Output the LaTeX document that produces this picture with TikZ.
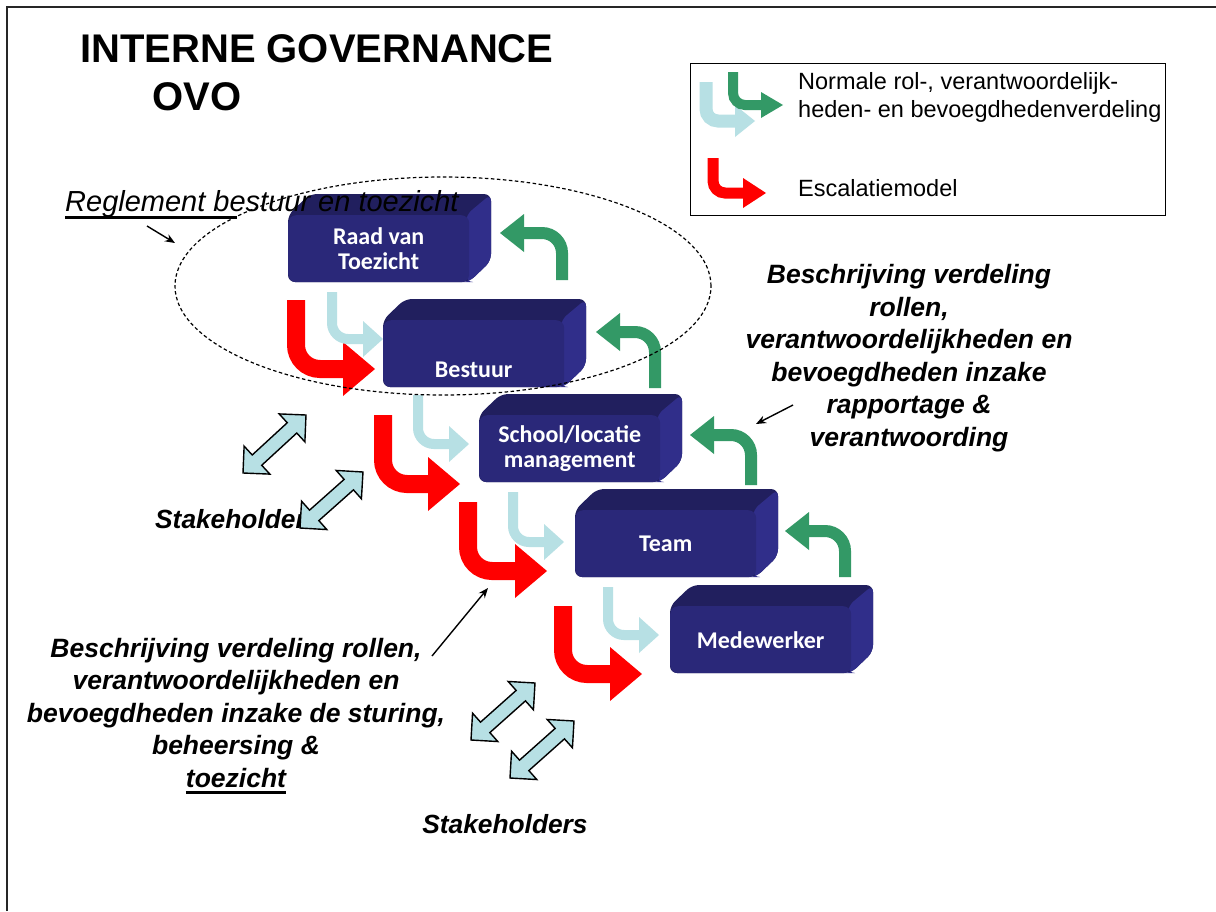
\documentclass[tikz,border=0pt]{standalone}
\usepackage{fontspec}
\setmainfont{Liberation Sans}
\newfontfamily\calfont{Carlito}
\usetikzlibrary{calc,arrows.meta,shapes.geometric}
\definecolor{ovofront}{HTML}{2A2879}
\definecolor{ovotop}{HTML}{211F5E}
\definecolor{ovoside}{HTML}{302E8A}
\definecolor{lblue}{HTML}{B7E0E4}
\definecolor{ggreen}{HTML}{339966}
\definecolor{rred}{HTML}{FF0000}

\newcommand\ovobox[4]{%
  \coordinate (#1-o) at (#2,#3);
  \fill[ovotop, rounded corners=7] (#1-o) -- ($(#1-o)+(22,-21)$) -- ($(#1-o)+(203,-21)$) -- ($(#1-o)+(203,46)$) -- ($(#1-o)+(181,67)$) -- ($(#1-o)+(0,67)$) -- cycle;
  \fill[ovoside, rounded corners=7] ($(#1-o)+(178,0)$) -- ($(#1-o)+(203,-21)$) -- ($(#1-o)+(203,46)$) -- ($(#1-o)+(181,67)$) -- ($(#1-o)+(178,67)$) -- cycle;
  \node[ovofrontbox] (#1) at (#1-o) {#4};
}
% #1 style, #2 start, #3 tip, #4 signed offset tip->head base, #5 half head
\newcommand\bentarr[5]{%
  \draw[#1] (#2) |- ($(#3)+(#4,0)$);
  \fill[#1, sharp corners] ($(#3)+(#4,#5)$) -- (#3) -- ($(#3)+(#4,-#5)$) -- cycle;
}
\newcommand\dblarr[2]{%
  \draw[stake] let \p1=(#1), \p2=(#2), \n1={atan2(\y2-\y1,\x2-\x1)}, \n2={veclen(\x2-\x1,\y2-\y1)} in
  (\p1) -- ++(\n1+45:26.87pt) -- ++(\n1-90:12pt) -- ++(\n1:{(\n2-38)*1pt}) -- ++(\n1+90:12pt)
  -- (\p2) -- ++(\n1-135:26.87pt) -- ++(\n1+90:12pt) -- ++(\n1+180:{(\n2-38)*1pt}) -- ++(\n1-90:12pt) -- cycle;
}
\newcommand\ulbar[1]{\setbox0\hbox{#1}\rlap{\raisebox{-7pt}{\rule{\wd0}{2.8pt}}}\box0}

\begin{document}
\begin{tikzpicture}[x=1pt,y=-1pt,
  ovofrontbox/.style={fill=ovofront, rounded corners=8, minimum width=181, minimum height=67, anchor=north west, inner sep=0, text=white, font=\calfont\bfseries\fontsize{24}{25}\selectfont, align=center},
  redarr/.style={color=rred, line width=18, rounded corners=24},
  lbarr/.style={color=lblue, line width=10, rounded corners=16},
  grnarr/.style={color=ggreen, line width=12, rounded corners=20},
  lgred/.style={color=rred, line width=11, rounded corners=12},
  lglb/.style={color=lblue, line width=13, rounded corners=12},
  lggrn/.style={color=ggreen, line width=10, rounded corners=12},
  stake/.style={fill=lblue, draw=black, line width=1.4, line join=miter},
  pointer/.style={-{Stealth[length=10pt,width=8pt]}, line width=1.4, black},
  bigtext/.style={font=\bfseries\itshape\fontsize{26.5}{32.5}\selectfont, align=center, inner sep=0},
  lgtext/.style={font=\fontsize{23.5}{28}\selectfont, anchor=base west, inner sep=0},
  titletext/.style={font=\bfseries\fontsize{40}{46}\selectfont, anchor=base west, inner sep=0}
]
\useasboundingbox (0,0) rectangle (1216,911);
\fill[white] (0,0) rectangle (1216,911);
\draw[line width=2, black!85] (7,911) -- (7,7) -- (1216,7);

% title
\node[titletext] (title) at (80,62) {INTERNE GOVERNANCE};
\node[titletext] (ovo) at (152,110) {OVO};

% legend
\node[draw, line width=1.3, minimum width=475, minimum height=152, anchor=north west, inner sep=0] (legend) at (690,63) {};
\coordinate (llbs) at (706,82); \coordinate (llbt) at (755,121);
\coordinate (lgs) at (733,72); \coordinate (lgt) at (783,105);
\coordinate (lrs) at (713,158); \coordinate (lrt) at (766,193);
\bentarr{lglb}{llbs}{llbt}{-20}{16}
\bentarr{lggrn}{lgs}{lgt}{-22}{13}
\bentarr{lgred}{lrs}{lrt}{-23}{15}
\node[lgtext] (lg1) at (798,89) {Normale rol-, verantwoordelijk-};
\node[lgtext] (lg2) at (798,117) {heden- en bevoegdhedenverdeling};
\node[lgtext] (lg3) at (798,196) {Escalatiemodel};

% boxes
\ovobox{rvt}{288}{215}{Raad van\\Toezicht}
\ovobox{best}{383}{320}{\mbox{}\\[23pt]Bestuur}
\ovobox{school}{479}{415}{School/locatie\\management}
\ovobox{team}{575}{510}{Team}
\ovobox{mw}{670}{606}{Medewerker}

% escalation arrows (red)
\coordinate (r1s) at (296,300); \coordinate (r1t) at (375,369);
\coordinate (r2s) at (383,415); \coordinate (r2t) at (460,484);
\coordinate (r3s) at (468,502); \coordinate (r3t) at (547,571);
\coordinate (r4s) at (563,606); \coordinate (r4t) at (642,674);
\bentarr{redarr}{r1s}{r1t}{-32}{27}
\bentarr{redarr}{r2s}{r2t}{-32}{27}
\bentarr{redarr}{r3s}{r3t}{-32}{27}
\bentarr{redarr}{r4s}{r4t}{-32}{27}

% normal arrows (light blue)
\coordinate (b1s) at (332,292); \coordinate (b1t) at (383,339);
\coordinate (b2s) at (418,395); \coordinate (b2t) at (469,444);
\coordinate (b3s) at (513,492); \coordinate (b3t) at (564,542);
\coordinate (b4s) at (608,587); \coordinate (b4t) at (659,635);
\bentarr{lbarr}{b1s}{b1t}{-20}{18}
\bentarr{lbarr}{b2s}{b2t}{-20}{18}
\bentarr{lbarr}{b3s}{b3t}{-20}{18}
\bentarr{lbarr}{b4s}{b4t}{-20}{18}

% reporting arrows (green)
\coordinate (g1s) at (562,280); \coordinate (g1t) at (500,233);
\coordinate (g2s) at (655,388); \coordinate (g2t) at (596,332);
\coordinate (g3s) at (751,485); \coordinate (g3t) at (690,435);
\coordinate (g4s) at (845,577); \coordinate (g4t) at (785,531);
\bentarr{grnarr}{g1s}{g1t}{24}{19}
\bentarr{grnarr}{g2s}{g2t}{24}{19}
\bentarr{grnarr}{g3s}{g3t}{24}{19}
\bentarr{grnarr}{g4s}{g4t}{24}{19}

% stakeholders
\node[font=\bfseries\itshape\fontsize{26.3}{30}\selectfont, anchor=base west, inner sep=0] (stk1) at (155,528) {Stakeholders};
\node[font=\bfseries\itshape\fontsize{26.3}{30}\selectfont, anchor=base, inner sep=0] (stk2) at (505,833) {Stakeholders};
\coordinate (s1a) at (243,473); \coordinate (s1b) at (306,415);
\coordinate (s2a) at (300,528); \coordinate (s2b) at (363,472);
\coordinate (s3a) at (471,740); \coordinate (s3b) at (535,683);
\coordinate (s4a) at (510,778); \coordinate (s4b) at (574,721);
\dblarr{s1a}{s1b}
\dblarr{s2a}{s2b}
\dblarr{s3a}{s3b}
\dblarr{s4a}{s4b}

% description texts (base anchor = baseline of the last line)
\node[bigtext, anchor=base] (ltext) at (236,787) {Beschrijving verdeling rollen,\\verantwoordelijkheden en\\bevoegdheden inzake de sturing,\\beheersing \&\\\ulbar{toezicht}};
\node[bigtext, anchor=base] (rtext) at (909,446) {Beschrijving verdeling\\rollen,\\verantwoordelijkheden en\\bevoegdheden inzake\\rapportage \&\\verantwoording};
\coordinate (pl1) at (432,656); \coordinate (pl2) at (488,588);
\draw[pointer] (pl1) -- (pl2);
\coordinate (pr1) at (793,405); \coordinate (pr2) at (756,424);
\draw[pointer] (pr1) -- (pr2);

% reglement
\node[font=\itshape\fontsize{29}{34}\selectfont, anchor=base west, inner sep=0] (regl) at (65,211) {Reglement bestuur en toezicht};
\fill ($(regl.base west)+(0,5)$) rectangle ($(regl.base west)+(172,8)$);
\coordinate (pg1) at (147,226); \coordinate (pg2) at (175,243);
\draw[pointer] (pg1) -- (pg2);
\node[draw, ellipse, dash pattern=on 3.5pt off 2.5pt, line width=1.2, minimum width=536, minimum height=218, inner sep=0] (ell) at (443,286) {};
\end{tikzpicture}
\end{document}
